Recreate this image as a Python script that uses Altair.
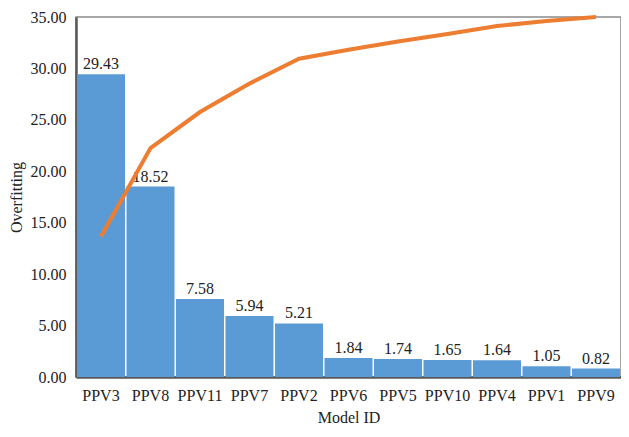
import altair as alt
import pandas as pd

models = ["PPV3", "PPV8", "PPV11", "PPV7", "PPV2", "PPV6", "PPV5", "PPV10", "PPV4", "PPV1", "PPV9"]
overfitting = [29.43, 18.52, 7.58, 5.94, 5.21, 1.84, 1.74, 1.65, 1.64, 1.05, 0.82]
cumulative_pct = [39.0, 63.6, 73.6, 81.5, 88.4, 90.9, 93.2, 95.3, 97.5, 98.9, 100.0]

df = pd.DataFrame({"model": models, "value": overfitting, "cum": cumulative_pct})

FONT = "Liberation Serif"

x = alt.X("model:N", sort=models, title="Model ID",
          scale=alt.Scale(paddingInner=0.03, paddingOuter=0.02),
          axis=alt.Axis(labelAngle=0, labelFont=FONT, labelFontSize=16, labelColor="#222",
                        titleFont=FONT, titleFontSize=16, titleFontWeight="normal", titleColor="#222",
                        ticks=False, labelPadding=10, titlePadding=6,
                        domainColor="#595959", domainWidth=2.5))

base = alt.Chart(df)

bars = base.mark_bar(color="#5B9BD5").encode(
    x=x,
    y=alt.Y("value:Q", title="Overfitting",
            scale=alt.Scale(domain=[0, 35], nice=False),
            axis=alt.Axis(values=[0, 5, 10, 15, 20, 25, 30, 35], format=".2f", grid=False,
                          ticks=False, labelPadding=10, labelFont=FONT, labelFontSize=16, labelColor="#222",
                          titleFont=FONT, titleFontSize=16, titleFontWeight="normal", titleColor="#222",
                          titlePadding=6, domainColor="#595959", domainWidth=2.5)),
)

labels = base.mark_text(font=FONT, fontSize=16, color="#222", baseline="bottom", dy=-2).encode(
    x=alt.X("model:N", sort=models),
    y=alt.Y("value:Q"),
    text=alt.Text("value:Q", format=".2f"),
)

line = base.mark_line(color="#ED7D31", strokeWidth=4).encode(
    x=alt.X("model:N", sort=models),
    y=alt.Y("cum:Q", scale=alt.Scale(domain=[0, 100], nice=False), axis=None),
)

chart = alt.layer(bars + labels, line).resolve_scale(y="independent").properties(
    width=545, height=360,
    autosize=alt.AutoSizeParams(type="none"),
    padding={"left": 68, "top": 9, "right": 0, "bottom": 52},
).configure_view(stroke="#8a8a8a", strokeWidth=1.5)

chart.save("out.html", embed_options={"renderer": "svg", "actions": False})
